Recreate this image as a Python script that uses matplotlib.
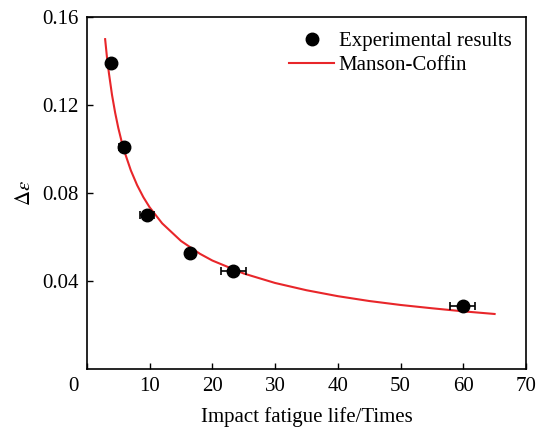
import matplotlib.pyplot as plt
import matplotlib.transforms as mtransforms
from matplotlib.lines import Line2D

life = [3.9, 5.9, 9.6, 16.4, 23.3, 59.9]
strain = [0.139, 0.101, 0.070, 0.0527, 0.0446, 0.0285]
life_err = [0.0, 0.8, 1.1, 0.0, 2.0, 2.0]

# Manson-Coffin fitted curve
fit_life = [2.9, 3.2, 3.5, 4.0, 4.5, 5.0, 5.5, 6.0, 7.0, 8.0, 9.0, 10.0, 12.0, 15.0,
            18.0, 20.0, 25.0, 30.0, 35.0, 40.0, 45.0, 50.0, 55.0, 60.0, 65.0]
fit_strain = [0.1500, 0.1416, 0.1346, 0.1246, 0.1165, 0.1096, 0.1038, 0.0987, 0.0903,
              0.0836, 0.0781, 0.0735, 0.0662, 0.0582, 0.0524, 0.0493, 0.0434, 0.0391,
              0.0358, 0.0331, 0.0309, 0.0291, 0.0276, 0.0262, 0.0250]

x_ticks = [0, 10, 20, 30, 40, 50, 60, 70]
y_ticks = [0.04, 0.08, 0.12, 0.16]

plt.rcParams['font.family'] = ['Liberation Serif', 'DejaVu Serif']
plt.rcParams['mathtext.fontset'] = 'stix'

fig = plt.figure(figsize=(5.4, 4.29), dpi=100)
ax = fig.add_axes([0.161, 0.140, 0.813, 0.820])

ax.errorbar(life, strain, xerr=life_err, fmt='o', color='black', ms=9,
            ecolor='black', elinewidth=1.2, capsize=3, capthick=1.2, zorder=3)
ax.plot(fit_life, fit_strain, color='#e8262a', lw=1.5, zorder=2)

ax.set_xlim(0, 70)
ax.set_ylim(0, 0.16)
ax.set_xticks(x_ticks)
ax.set_yticks(y_ticks)
ax.set_xticklabels([str(t) for t in x_ticks])
ax.set_yticklabels(['%.2f' % t for t in y_ticks])
ax.tick_params(direction='in', length=4, width=1, labelsize=15, pad=6)

# the origin label sits left of the corner
offset = mtransforms.ScaledTranslation(-14 / 100, 0, fig.dpi_scale_trans)
lbl0 = ax.get_xticklabels()[0]
lbl0.set_transform(lbl0.get_transform() + offset)

for s in ax.spines.values():
    s.set_linewidth(1.2)

ax.set_xlabel('Impact fatigue life/Times', fontsize=15, labelpad=8)
ax.set_ylabel(r'$\Delta\varepsilon$', fontsize=15, labelpad=5)

handles = [Line2D([], [], ls='none', marker='o', ms=9, color='black'),
           Line2D([], [], color='#e8262a', lw=1.5)]
labels = ['Experimental results', 'Manson-Coffin']
ax.legend(handles, labels, loc='upper right', frameon=False, fontsize=15,
          handlelength=2.2, handletextpad=0.2, labelspacing=0.2,
          borderaxespad=0.3)

fig.savefig('out.png', dpi=100)
